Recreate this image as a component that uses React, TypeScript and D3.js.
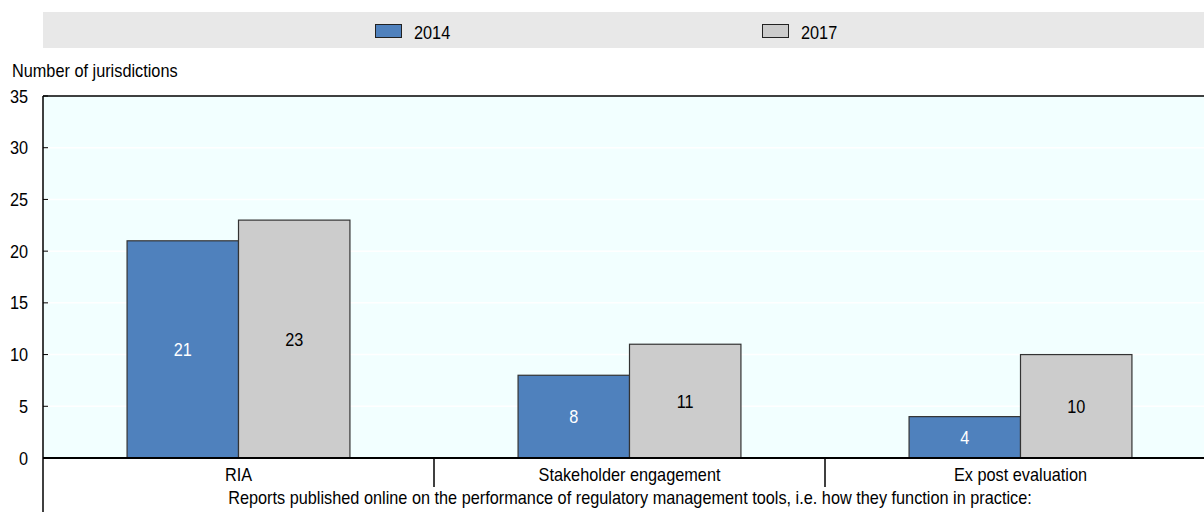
import React from "react";
import * as d3 from "d3";

const categories = ["RIA", "Stakeholder engagement", "Ex post evaluation"];
const seriesNames = ["2014", "2017"];
const values2014 = [21, 8, 4];
const values2017 = [23, 11, 10];
const yTicks = [0, 5, 10, 15, 20, 25, 30, 35];
const yTitle = "Number of jurisdictions";
const xTitle = "Reports published online on the performance of regulatory management tools, i.e. how they function in practice:";

const W = 1204;
const H = 512;
const FONT = "'Liberation Sans', Arial, sans-serif";
const FS = 18;
const SX = 0.905;
const colors = ["#4f81bd", "#cccccc"];
const labelColors = ["#ffffff", "#000000"];

function T({ x, y, anchor = "start", fill = "#000", children }: { x: number; y: number; anchor?: string; fill?: string; children: React.ReactNode }) {
  return (
    <text transform={`translate(${x},${y}) scale(${SX},1)`} textAnchor={anchor} fontSize={FS} fill={fill}>
      {children}
    </text>
  );
}

export default function App() {
  const left = 43;
  const right = 1216;
  const top = 96;
  const bottom = 458;
  const x = d3.scaleBand<string>().domain(categories).range([left, right]).paddingInner(0).paddingOuter(0);
  const y = d3.scaleLinear().domain([0, 35]).range([bottom, top]);
  const bw = x.bandwidth();
  const barW = bw * 0.285;
  const sub = d3.scaleBand<string>().domain(seriesNames).range([-barW, barW]);
  const series = [values2014, values2017];

  return (
    <svg width={W} height={H} style={{ position: "absolute", left: 0, top: 0 }} fontFamily={FONT}>
      <rect x={left} y={12} width={W - left} height={36} fill="#e8e8e8" />
      {seriesNames.map((s, i) => {
        const lx = [375, 762][i];
        return (
          <g key={s}>
            <rect x={lx + 0.5} y={24.5} width={26} height={13} fill={colors[i]} stroke="#222" strokeWidth={1} />
            <T x={lx + 39} y={38.5}>{s}</T>
          </g>
        );
      })}
      <T x={12} y={77}>{yTitle}</T>
      <rect x={left} y={top} width={right - left} height={bottom - top} fill="#f2ffff" />
      {yTicks.filter((t) => t > 0 && t < 35).map((t) => (
        <line key={t} x1={left} x2={right} y1={y(t)} y2={y(t)} stroke="#ffffff" strokeWidth={1.5} />
      ))}
      {categories.map((c, ci) =>
        series.map((vals, si) => {
          const cx = (x(c) as number) + bw / 2;
          const bx = cx + (sub(seriesNames[si]) as number);
          const v = vals[ci];
          return (
            <g key={c + si}>
              <rect x={bx} y={y(v)} width={sub.bandwidth()} height={bottom - y(v)} fill={colors[si]} stroke="#333" strokeWidth={1.2} />
              <T x={bx + sub.bandwidth() / 2} y={y(v / 2) + 6.5} anchor="middle" fill={labelColors[si]}>{v}</T>
            </g>
          );
        })
      )}
      <line x1={left} x2={right} y1={top} y2={top} stroke="#000" strokeWidth={1.5} />
      <line x1={left} x2={left} y1={top} y2={H} stroke="#000" strokeWidth={1.5} />
      <line x1={left} x2={right} y1={bottom} y2={bottom} stroke="#000" strokeWidth={2} />
      {yTicks.map((t) => (
        <g key={t}>
          <line x1={left} x2={left + 5} y1={y(t)} y2={y(t)} stroke="#000" strokeWidth={1} />
          <T x={28} y={y(t) + 6.5} anchor="end">{t}</T>
        </g>
      ))}
      {categories.slice(1).map((c) => (
        <line key={c} x1={x(c) as number} x2={x(c) as number} y1={bottom} y2={487} stroke="#000" strokeWidth={1.5} />
      ))}
      {categories.map((c) => (
        <T key={c} x={(x(c) as number) + bw / 2} y={481} anchor="middle">{c}</T>
      ))}
      <T x={630} y={503.5} anchor="middle">{xTitle}</T>
    </svg>
  );
}
